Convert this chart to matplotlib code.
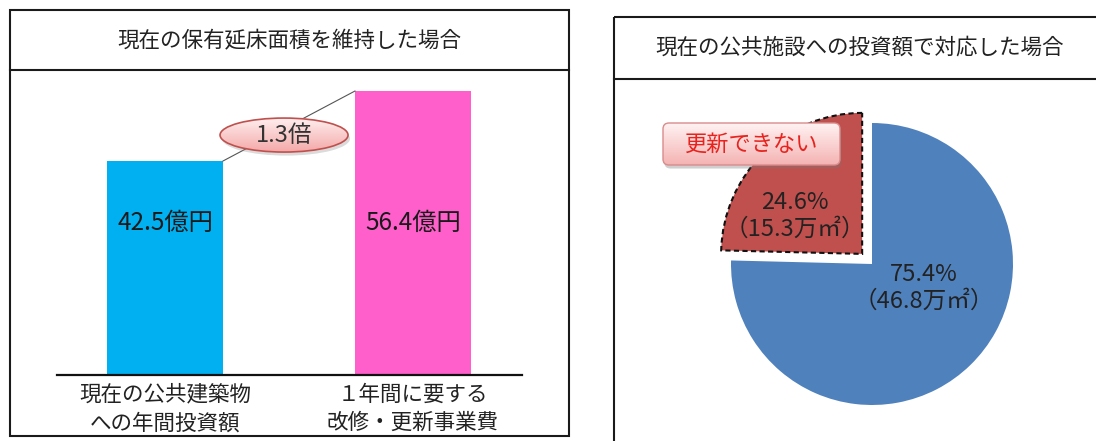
import numpy as np
import matplotlib
matplotlib.use("Agg")
import matplotlib.pyplot as plt
from matplotlib.patches import Rectangle, Ellipse, FancyBboxPatch
from matplotlib.colors import to_rgb

plt.rcParams['font.family'] = ['Noto Sans CJK JP', 'DejaVu Sans']

# ---- data ----
bar_categories = ["現在の公共建築物\nへの年間投資額", "１年間に要する\n改修・更新事業費"]
bar_values = [42.5, 56.4]          # 億円
bar_colors = ["#00B0F0", "#FF5FCB"]

pie_labels = ["更新できる", "更新できない"]
pie_shares = [75.4, 24.6]          # %
pie_areas = [46.8, 15.3]           # 万㎡
pie_colors = ["#4F81BD", "#C0504D"]

left_title = "現在の保有延床面積を維持した場合"
right_title = "現在の公共施設への投資額で対応した場合"
callout_text = "更新できない"

W, H = 1096, 441
fig = plt.figure(figsize=(W / 100, H / 100), dpi=100)


def frac(px_left, px_top, px_w, px_h):
    return [px_left / W, (H - px_top - px_h) / H, px_w / W, px_h / H]


def gradient_fill(ax, patch, top, bottom, extent, zorder):
    ax.add_patch(patch)
    c0, c1 = np.array(to_rgb(top)), np.array(to_rgb(bottom))
    t = np.linspace(0, 1, 64)[:, None, None]
    img = (1 - t) * c0 + t * c1
    img = np.repeat(img, 2, axis=1)
    im = ax.imshow(img, extent=extent, origin='upper', aspect='auto',
                   zorder=zorder, interpolation='bilinear')
    im.set_clip_path(patch)
    return im


# ---- panel frames ----
bg = fig.add_axes([0, 0, 1, 1])
bg.set_xlim(0, W)
bg.set_ylim(H, 0)
bg.axis('off')
frame_kw = dict(fill=False, edgecolor="#1a1a1a", linewidth=1.5)
bg.add_patch(Rectangle((10, 9.5), 559, 426.5, **frame_kw))
bg.plot([10, 569], [70, 70], color="#1a1a1a", lw=1.5)
bg.add_patch(Rectangle((614, 17), 500, 440, **frame_kw))
bg.plot([614, 1100], [78.5, 78.5], color="#1a1a1a", lw=1.5)
bg.text(289.5, 41, left_title, ha='center', va='center', fontsize=15.5, color="#222222")
bg.text(860, 48, right_title, ha='center', va='center', fontsize=15.5, color="#222222")

# ---- bar chart ----
px_per_unit = 284 / 56.4
bar_left, bar_right, base_y, top_y = 57, 522, 375, 80
axb = fig.add_axes(frac(bar_left, top_y, bar_right - bar_left, base_y - top_y))
axb.patch.set_alpha(0)
x = np.arange(len(bar_values))
step = 248.0
width = 116 / step
axb.bar(x, bar_values, width=width, color=bar_colors, zorder=2)
for s in ['top', 'left', 'right']:
    axb.spines[s].set_visible(False)
axb.spines['bottom'].set_linewidth(1.6)
axb.spines['bottom'].set_color("#111111")
axb.set_yticks([])
axb.set_xticks(x)
axb.set_xticklabels(bar_categories, fontsize=15.5, linespacing=1.4, color="#222222")
axb.tick_params(axis='x', length=0, pad=6)
for xi, v in zip(x, bar_values):
    axb.text(xi, 30.3, f"{v:.1f}億円", ha='center', va='center', fontsize=17.5, color="#1a1a1a", zorder=3)

# connector between bar tops and ratio bubble
x0, y0 = x[0] + width / 2, bar_values[0]
x1, y1 = x[1] - width / 2, bar_values[1]
axb.plot([x0, x1], [y0, y1], color="#555555", lw=0.8, zorder=3)
ratio = bar_values[1] / bar_values[0]
ecx, ecy = (x0 + x1) / 2 - 0.02, (y0 + y1) / 2 - 1.8
ew, eh = 128 / step, 34 / px_per_unit
axb.add_patch(Ellipse((ecx + 0.008, ecy - 0.7), ew, eh, facecolor="#888888", alpha=0.3,
                      edgecolor='none', zorder=4))
ell = Ellipse((ecx, ecy), ew, eh, facecolor='none', edgecolor="#C0504D", lw=1.2, zorder=6)
gradient_fill(axb, ell, "#FFF0F0", "#F4A9A9",
              (ecx - ew / 2, ecx + ew / 2, ecy - eh / 2, ecy + eh / 2), zorder=5)
axb.text(ecx, ecy, f"{ratio:.1f}倍", ha='center', va='center', fontsize=17, color="#333333", zorder=7)
axb.set_xlim((bar_left - 165) / step, (bar_right - 165) / step)
axb.set_ylim(0, (base_y - top_y) / px_per_unit)

# ---- pie chart ----
R = 141.0
cx, cy = 872, 264
L = 1.55
half = L * R
axp = fig.add_axes(frac(cx - half, cy - half, 2 * half, 2 * half))
axp.patch.set_alpha(0)
wedges, _ = axp.pie(pie_shares, colors=pie_colors, startangle=90, counterclock=False,
                    explode=[0, 0.1], radius=1.0)
wedges[1].set_edgecolor("#111111")
wedges[1].set_linestyle((0, (2.5, 1.6)))
wedges[1].set_linewidth(1.5)
wedges[0].set_edgecolor('none')

label_pos = [(0.369, -0.17), (-0.546, 0.34)]
for (lx, ly), share, area in zip(label_pos, pie_shares, pie_areas):
    axp.text(lx, ly, f"{share:.1f}%\n（{area:.1f}万㎡）", ha='center', va='center',
             fontsize=17, linespacing=1.2, color="#222222", zorder=5)

# callout box
bx0, bx1 = (663 - cx) / R, (840 - cx) / R
by0, by1 = (cy - 165) / R, (cy - 123) / R
rs = 6 / R
axp.add_patch(FancyBboxPatch((bx0 + 0.01, by0 - 0.025), bx1 - bx0, by1 - by0,
                             boxstyle=f"round,pad=0,rounding_size={rs}",
                             facecolor="#777777", alpha=0.35, edgecolor='none', zorder=6))
box = FancyBboxPatch((bx0, by0), bx1 - bx0, by1 - by0,
                     boxstyle=f"round,pad=0,rounding_size={rs}",
                     facecolor='none', edgecolor="#D98C8C", lw=1.0, zorder=8)
gradient_fill(axp, box, "#FFF2F2", "#F5B3B3", (bx0, bx1, by0, by1), zorder=7)
axp.text((bx0 + bx1) / 2, (by0 + by1) / 2, callout_text, ha='center', va='center',
         fontsize=16, color="#E8231E", zorder=9)

axp.set_xlim(-L, L)
axp.set_ylim(-L, L)
axp.set_aspect('equal')
axp.axis('off')

fig.savefig("out.png", dpi=100)
